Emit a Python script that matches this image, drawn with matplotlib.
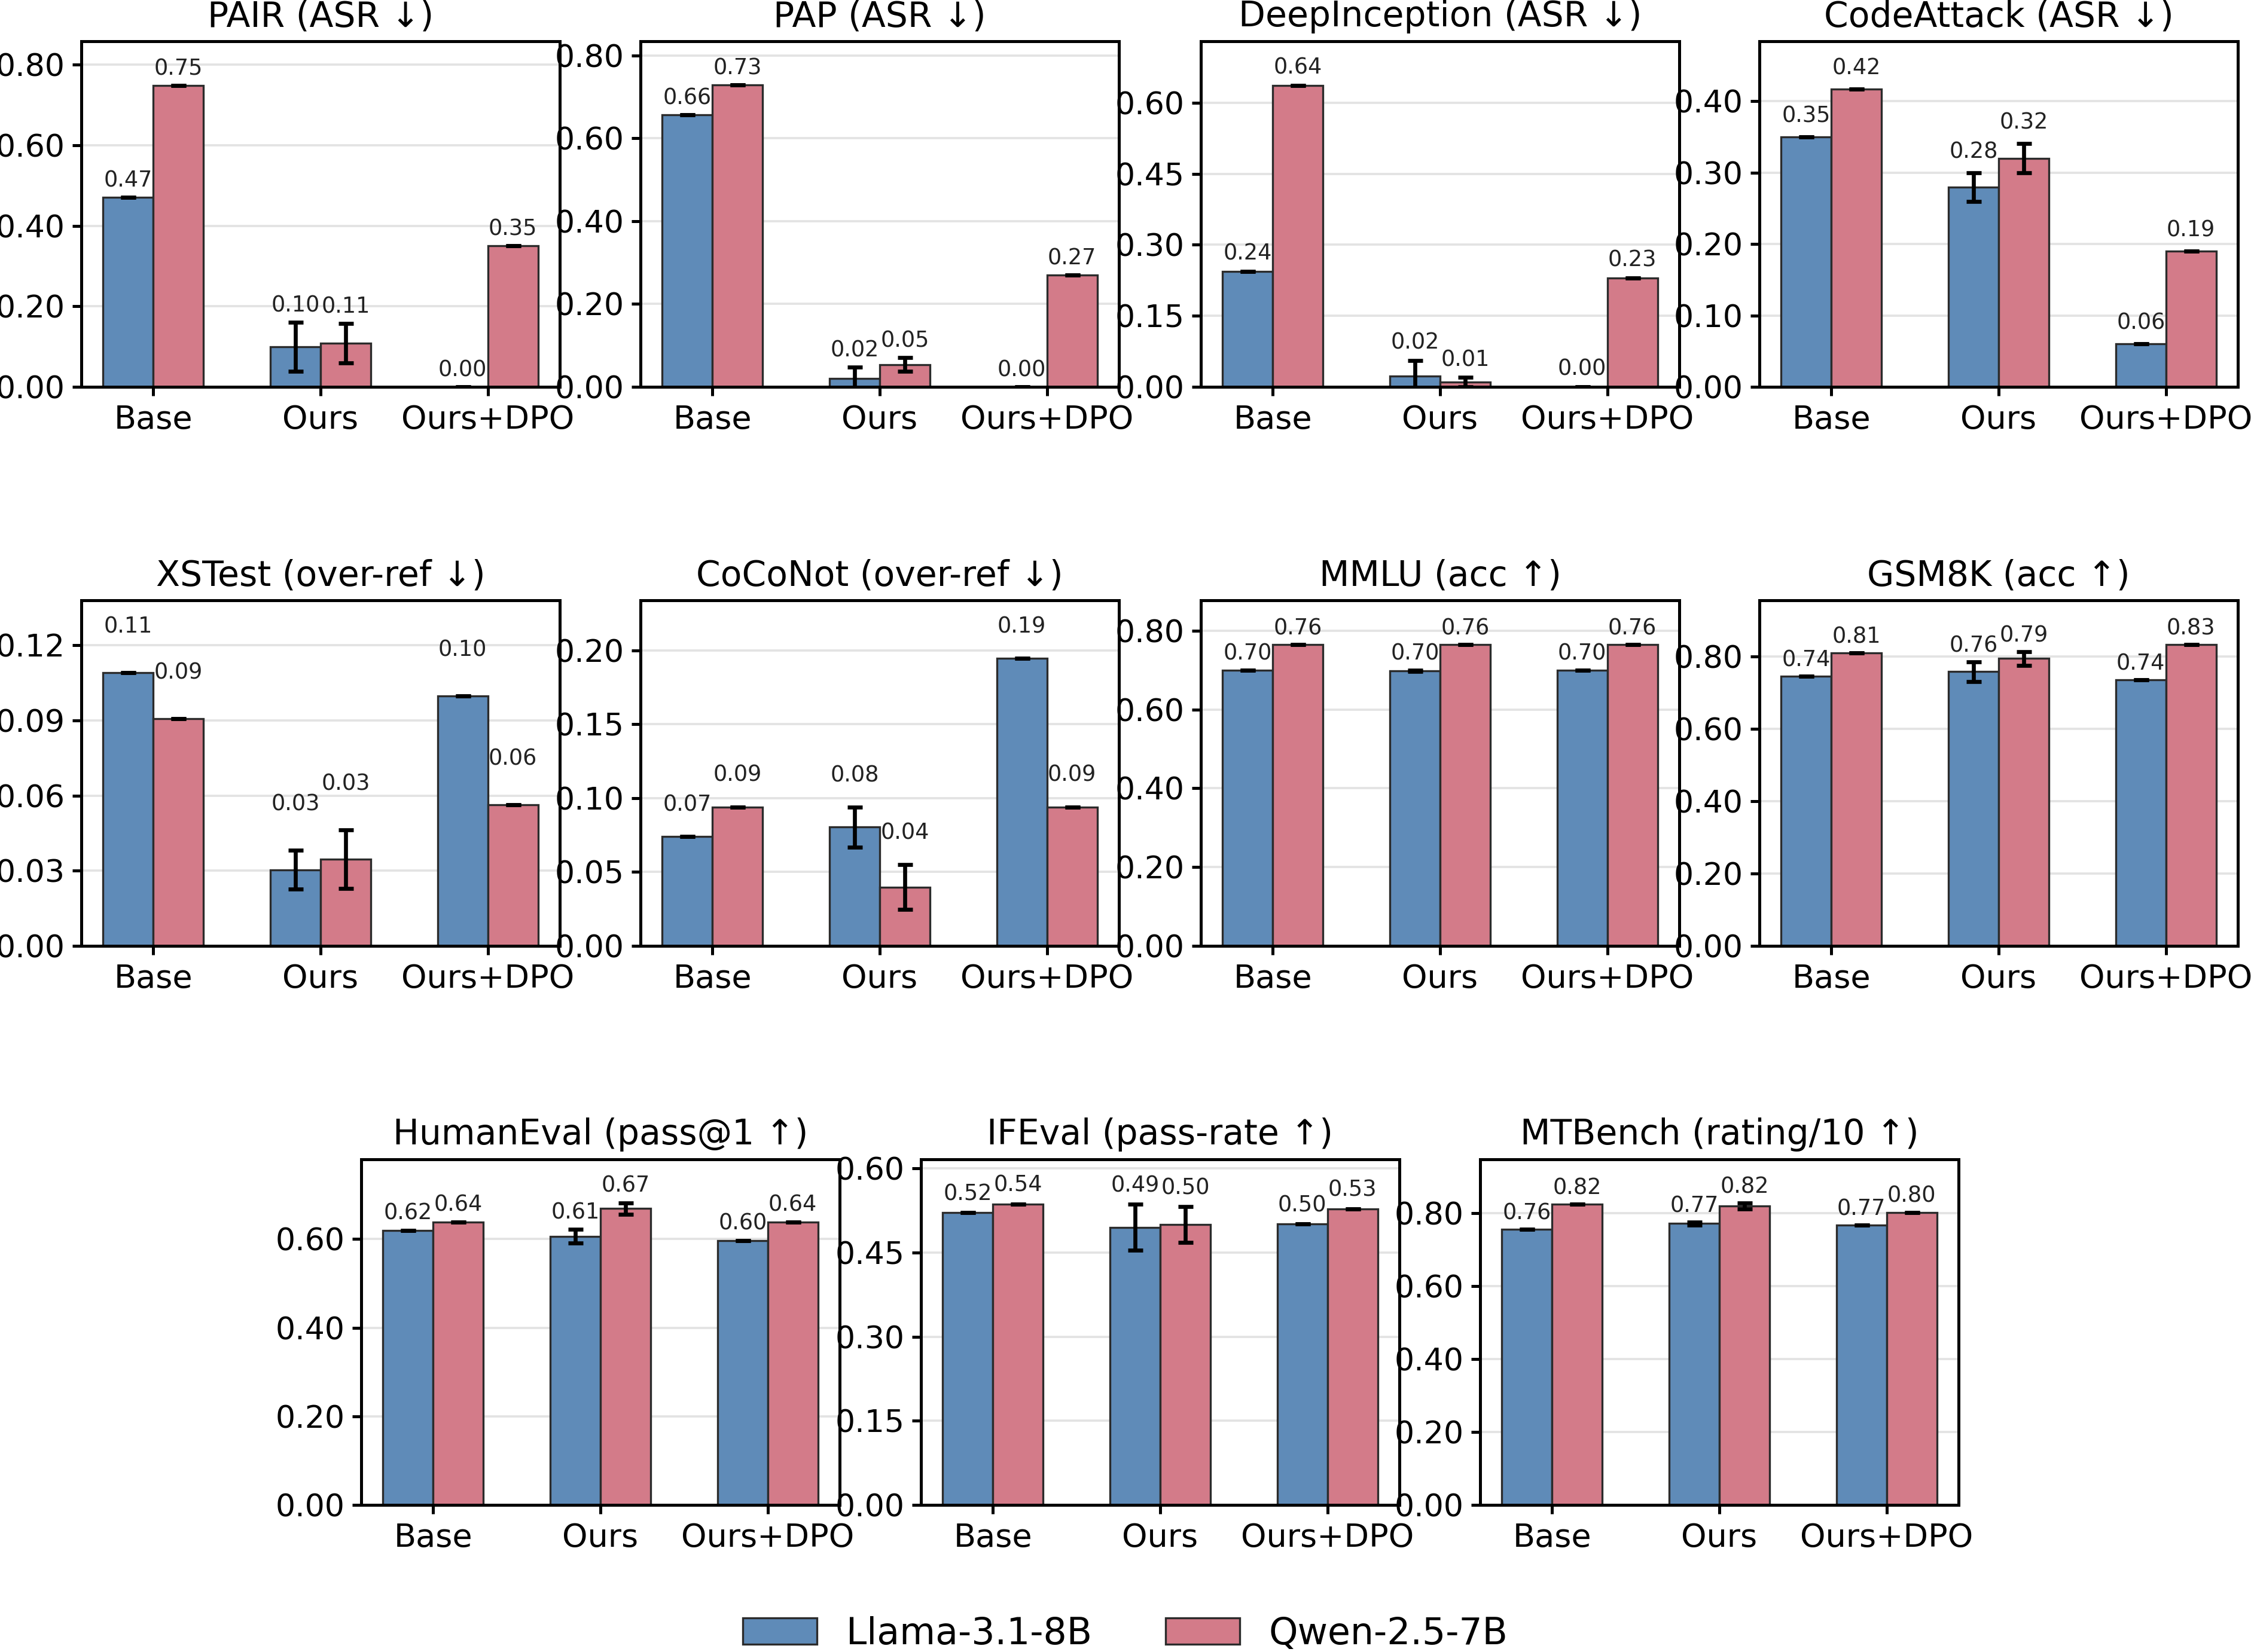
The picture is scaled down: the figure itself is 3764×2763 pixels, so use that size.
import matplotlib
matplotlib.use("Agg")
import numpy as np
import matplotlib.pyplot as plt
from matplotlib.ticker import MultipleLocator, FormatStrFormatter

methods = ["Base", "Ours", "Ours+DPO"]
models = ["Llama-3.1-8B", "Qwen-2.5-7B"]

titles = ["PAIR (ASR ↓)", "PAP (ASR ↓)", "DeepInception (ASR ↓)", "CodeAttack (ASR ↓)",
          "XSTest (over-ref ↓)", "CoCoNot (over-ref ↓)", "MMLU (acc ↑)", "GSM8K (acc ↑)",
          "HumanEval (pass@1 ↑)", "IFEval (pass-rate ↑)", "MTBench (rating/10 ↑)"]

llama = [[0.471, 0.100, 0.000], [0.656, 0.020, 0.000], [0.244, 0.023, 0.000],
         [0.350, 0.280, 0.060], [0.109, 0.0304, 0.0998], [0.0739, 0.0804, 0.1946],
         [0.700, 0.698, 0.700], [0.745, 0.758, 0.736], [0.620, 0.606, 0.596],
         [0.521, 0.4946, 0.5005], [0.756, 0.771, 0.767]]
llama_err = [[0, 0.061, 0], [0, 0.028, 0], [0, 0.033, 0], [0, 0.020, 0],
             [0, 0.0077, 0], [0, 0.0136, 0], [0, 0.002, 0], [0, 0.027, 0],
             [0, 0.0155, 0], [0, 0.041, 0], [0, 0.004, 0]]
qwen = [[0.748, 0.108, 0.350], [0.728, 0.054, 0.270], [0.637, 0.010, 0.230],
        [0.417, 0.320, 0.190], [0.0908, 0.0347, 0.0563], [0.0941, 0.0398, 0.0941],
        [0.764, 0.764, 0.764], [0.809, 0.7947, 0.833], [0.638, 0.669, 0.638],
        [0.536, 0.4995, 0.528], [0.824, 0.819, 0.802]]
qwen_err = [[0, 0.049, 0], [0, 0.016, 0], [0, 0.010, 0], [0, 0.0205, 0],
            [0, 0.0117, 0], [0, 0.0151, 0], [0, 0, 0], [0, 0.019, 0],
            [0, 0.013, 0], [0, 0.032, 0], [0, 0.0087, 0]]

# axis settings per panel
y_top = [0.858, 0.834, 0.730, 0.484, 0.138, 0.234, 0.877, 0.955, 0.780, 0.616, 0.947]
y_step = [0.2, 0.2, 0.15, 0.1, 0.03, 0.05, 0.2, 0.2, 0.2, 0.15, 0.2]

colors = ["#5f8bb8", "#d37b89"]

fig = plt.figure(figsize=(3764 / 300, 2763 / 300), dpi=300)

W, H = 800 / 3764, 578 / 2763
lefts = [136, 1071, 2008, 2942, 136, 1071, 2008, 2942, 604, 1540, 2475]
bottoms = [647] * 4 + [1582] * 4 + [2517] * 3

x = np.arange(len(methods))
w = 0.3
handles = []
for i, title in enumerate(titles):
    ax = fig.add_axes([lefts[i] / 3764, 1 - bottoms[i] / 2763, W, H])
    ax.set_axisbelow(True)
    ax.grid(axis="y", color="#e3e3e3", linewidth=0.9)
    series = [(llama[i], llama_err[i]), (qwen[i], qwen_err[i])]
    for j, (vals, errs) in enumerate(series):
        pos = x + (j - 0.5) * w
        b = ax.bar(pos, vals, w, yerr=errs, color=colors[j], edgecolor="#2b2b2b",
                   linewidth=0.8, capsize=3, label=models[j],
                   error_kw=dict(elinewidth=1.6, capthick=1.6, ecolor="black"))
        if i == 0:
            handles.append(b)
        for p, v, e in zip(pos, vals, errs):
            ax.text(p, v + e + 0.014, f"{v:.2f}", ha="center", va="bottom",
                    fontsize=8.8, color="#222222")
    ax.set_ylim(0, y_top[i])
    ax.yaxis.set_major_locator(MultipleLocator(y_step[i]))
    ax.yaxis.set_major_formatter(FormatStrFormatter("%.2f"))
    ax.set_xticks(x)
    ax.set_xticklabels(methods)
    ax.tick_params(axis="x", labelsize=13, width=1.2, length=3.5)
    ax.tick_params(axis="y", labelsize=12.5, width=1.2, length=3.5, pad=3)
    for s in ax.spines.values():
        s.set_linewidth(1.2)
    ax.set_title(title, fontsize=14, pad=6)

fig.legend(handles, models, loc="center", bbox_to_anchor=(0.5, 0.011), ncol=2,
           frameon=False, fontsize=14.8)

fig.savefig("out.png", dpi=300)
